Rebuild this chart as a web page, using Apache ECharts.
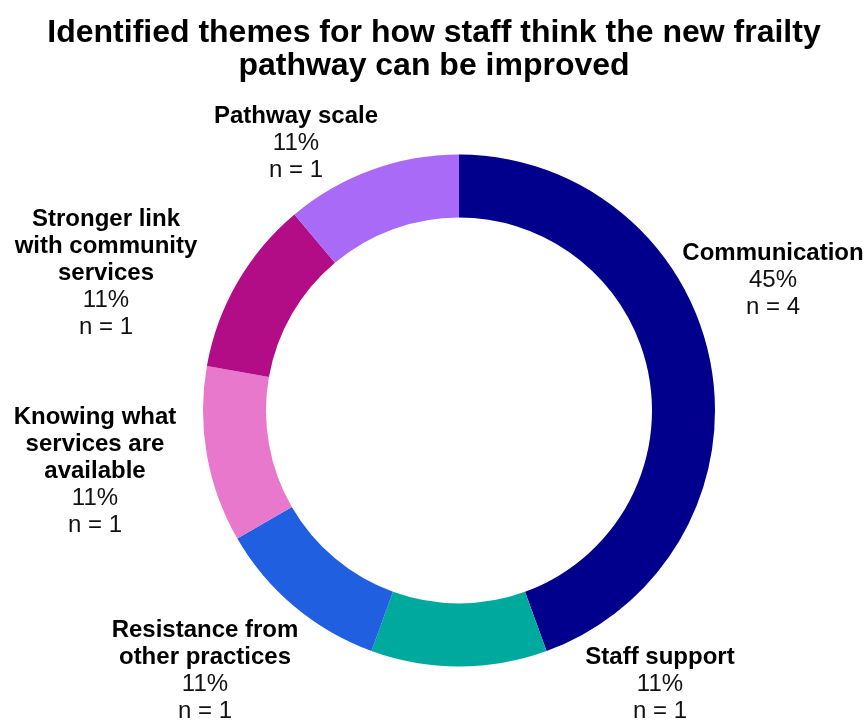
<!DOCTYPE html>
<html>
<head>
<meta charset="utf-8">
<title>Frailty pathway improvement themes</title>
<script src="https://cdn.jsdelivr.net/npm/echarts@6/dist/echarts.min.js"></script>
<style>
  html, body { margin: 0; padding: 0; background: #ffffff; }
  #chart { width: 868px; height: 722px; }
</style>
</head>
<body>
<div id="chart"></div>
<script>
// Themes, in clockwise order starting at 12 o'clock
const categories = [
  'Communication',
  'Staff support',
  'Resistance from other practices',
  'Knowing what services are available',
  'Stronger link with community services',
  'Pathway scale'
];
// Number of staff responses per theme
const counts = [4, 1, 1, 1, 1, 1];
// Share of responses as printed on the labels (%)
const shares = [45, 11, 11, 11, 11, 11];
const colors = ['#00008C', '#00A99D', '#1F5FE0', '#E878CC', '#B30C87', '#A96AF8'];

// How each theme name is broken across lines in its label
const wrapped = {
  'Resistance from other practices': 'Resistance from\nother practices',
  'Knowing what services are available': 'Knowing what\nservices are\navailable',
  'Stronger link with community services': 'Stronger link\nwith community\nservices'
};

// Label block centres (x, y) for each theme
const labelCentres = [
  [773, 280],
  [660, 684],
  [205, 671],
  [95, 471],
  [106, 273],
  [296, 143]
];

const FONT = '"Liberation Sans", Arial, Helvetica, sans-serif';

const chart = echarts.init(document.getElementById('chart'), null, { renderer: 'canvas' });

chart.setOption({
  animation: false,
  backgroundColor: '#ffffff',
  title: {
    text: 'Identified themes for how staff think the new frailty\npathway can be improved',
    left: 'center',
    top: 12,
    textStyle: {
      fontFamily: FONT,
      fontSize: 32,
      fontWeight: 'bold',
      color: '#000000',
      lineHeight: 33
    }
  },
  series: [{
    type: 'pie',
    center: [459, 410.5],
    radius: [193, 256],
    startAngle: 90,
    clockwise: true,
    avoidLabelOverlap: false,
    itemStyle: { borderWidth: 0 },
    emphasis: { disabled: true },
    labelLine: { show: false },
    label: {
      show: true,
      position: 'outside',
      color: '#000000',
      fontFamily: FONT,
      align: 'center',
      formatter: function (p) {
        const name = wrapped[p.name] || p.name;
        return '{b|' + name + '}\n{v|' + shares[p.dataIndex] + '%}\n{v|n = ' + p.value + '}';
      },
      rich: {
        b: { fontFamily: FONT, fontSize: 24, fontWeight: 'bold', color: '#000000', lineHeight: 27, align: 'center' },
        v: { fontFamily: FONT, fontSize: 24, fontWeight: 'normal', color: '#111111', lineHeight: 27, align: 'center' }
      }
    },
    labelLayout: function (params) {
      const c = labelCentres[params.dataIndex];
      return { x: c[0], y: c[1], align: 'center', verticalAlign: 'middle' };
    },
    data: categories.map(function (name, i) {
      return { name: name, value: counts[i], itemStyle: { color: colors[i] } };
    })
  }]
});
</script>
</body>
</html>
